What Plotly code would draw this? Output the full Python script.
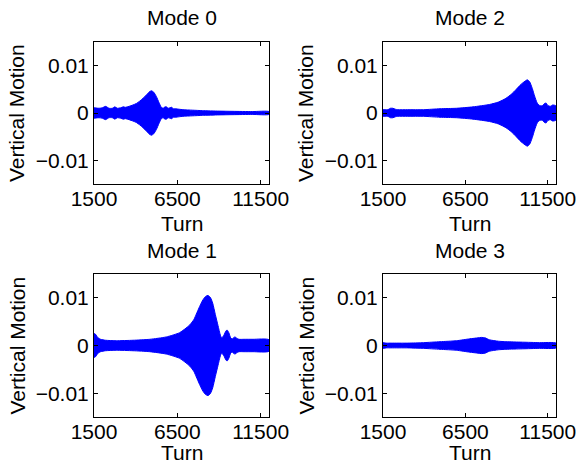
import plotly.graph_objects as go

# ---- data (envelope half-amplitudes) ----
mode0_turns = [1500, 1800, 2000, 2200, 2400, 2600, 2750, 2900, 3100, 3250, 3400, 3600, 3840, 4040, 4240, 4440, 4640, 4800, 4940, 5080, 5240, 5400, 5540, 5650, 5760, 5840, 5950, 6060, 6160, 6260, 6380, 6600, 6840, 7400, 8000, 9000, 9840, 11000, 12000]
mode0_amp   = [0.0011, 0.0010, 0.0011, 0.0014, 0.0010, 0.0010, 0.0013, 0.0010, 0.0011, 0.0013, 0.0012, 0.0014, 0.0017, 0.0020, 0.0025, 0.0031, 0.0038, 0.0044, 0.0047, 0.0044, 0.0035, 0.0022, 0.0012, 0.0010, 0.0013, 0.0013, 0.0010, 0.0011, 0.0012, 0.0009, 0.0009, 0.0008, 0.0007, 0.0006, 0.0005, 0.0004, 0.00035, 0.0003, 0.0003]

mode2_turns = [1500, 1800, 1950, 2100, 2250, 2400, 3000, 3960, 4960, 5960, 6960, 7960, 8500, 8960, 9300, 9560, 9800, 9960, 10150, 10260, 10400, 10560, 10700, 10860, 11000, 11150, 11300, 11400, 11500, 11650, 11800, 12000]
mode2_amp   = [0.0007, 0.0007, 0.0010, 0.0010, 0.0008, 0.0007, 0.0007, 0.0007, 0.0009, 0.0010, 0.0013, 0.0018, 0.0023, 0.0031, 0.0040, 0.0049, 0.0058, 0.0063, 0.0068, 0.0070, 0.0066, 0.0052, 0.0036, 0.0021, 0.0016, 0.0015, 0.0020, 0.0021, 0.0016, 0.0014, 0.0017, 0.0015]

mode1_turns = [1500, 1580, 1660, 1740, 1900, 2200, 2840, 3840, 4840, 5840, 6640, 7240, 7500, 7640, 7840, 8040, 8200, 8340, 8480, 8620, 8780, 8940, 9080, 9160, 9300, 9420, 9500, 9600, 9700, 9800, 9900, 9980, 10060, 10200, 10500, 11040, 12000]
mode1_amp   = [0.0025, 0.0024, 0.0020, 0.0016, 0.0013, 0.0011, 0.0010, 0.0011, 0.0013, 0.0018, 0.0027, 0.0043, 0.0055, 0.0066, 0.0082, 0.0096, 0.0103, 0.0105, 0.0101, 0.0089, 0.0065, 0.0042, 0.0022, 0.0016, 0.0022, 0.0031, 0.0032, 0.0026, 0.0016, 0.0014, 0.0017, 0.0018, 0.0015, 0.0013, 0.0013, 0.0013, 0.0012]

mode3_turns = [1500, 1700, 2000, 3000, 3960, 4960, 5960, 6760, 7260, 7460, 7700, 7960, 8500, 8960, 9960, 11000, 12000]
mode3_amp   = [0.0006, 0.0005, 0.0005, 0.0005, 0.0006, 0.0008, 0.0010, 0.0014, 0.0016, 0.0017, 0.0016, 0.0012, 0.0009, 0.0008, 0.0007, 0.0006, 0.0005]

titles = ["Mode 0", "Mode 2", "Mode 1", "Mode 3"]
x_tickvals = [1500, 6500, 11500]
x_ticktext = ["1500", "6500", "11500"]
y_tickvals = [-0.01, 0, 0.01]
y_ticktext = ["\u22120.01", "0", "0.01"]
x_range = [1500, 12000]
y_range = [-0.015, 0.015]

# (turns, amplitude, box x px, box y px, title y px, xlabel y px)
panels = [
    (mode0_turns, mode0_amp, [94, 269], [42, 184], 17, 223),
    (mode2_turns, mode2_amp, [383, 556], [42, 184], 17, 223),
    (mode1_turns, mode1_amp, [94, 269], [274, 417], 250, 452),
    (mode3_turns, mode3_amp, [383, 556], [274, 417], 250, 452),
]

W, H = 581, 464
FONT = "Liberation Sans, Arial, Helvetica, sans-serif"
FS = 21

fig = go.Figure()
annotations = []
layout = dict(
    template="none",
    width=W, height=H, margin=dict(l=0, r=0, t=0, b=0, pad=0, autoexpand=False),
    paper_bgcolor="white", plot_bgcolor="white", showlegend=False,
    font=dict(family=FONT, size=FS, color="black"),
)

for i, (turns, amp, xp, yp, ty, ly) in enumerate(panels):
    n = "" if i == 0 else str(i + 1)
    xs = list(turns) + list(reversed(turns))
    ys = list(amp) + [-a for a in reversed(amp)]
    fig.add_trace(go.Scatter(
        x=xs, y=ys, mode="lines", fill="toself",
        fillcolor="#0000FF", line=dict(color="#0000FF", width=1, shape="spline", smoothing=0.6),
        xaxis="x" + n, yaxis="y" + n, hoverinfo="skip",
    ))
    dx = [xp[0] / W, xp[1] / W]
    dy = [1 - yp[1] / H, 1 - yp[0] / H]
    common = dict(
        ticks="inside", ticklen=4, tickcolor="black", tickwidth=1, mirror="ticks",
        showline=True, linecolor="black", linewidth=1, showgrid=False, zeroline=False,
        automargin=False, tickfont=dict(family=FONT, size=FS, color="black"),
    )
    layout["xaxis" + n] = dict(domain=dx, range=x_range, anchor="y" + n,
                               tickvals=x_tickvals, ticktext=x_ticktext,
                               ticklabelstandoff=-4, **common)
    layout["yaxis" + n] = dict(domain=dy, range=y_range, anchor="x" + n,
                               tickvals=y_tickvals, ticktext=y_ticktext, **common)
    xc = (xp[0] + xp[1]) / 2 / W
    annotations.append(dict(text=titles[i], x=xc, y=1 - ty / H, xref="paper", yref="paper",
                            xanchor="center", yanchor="middle", showarrow=False,
                            font=dict(family=FONT, size=FS, color="black")))
    annotations.append(dict(text="Turn", x=xc, y=1 - ly / H, xref="paper", yref="paper",
                            xanchor="center", yanchor="middle", showarrow=False,
                            font=dict(family=FONT, size=FS, color="black")))
    annotations.append(dict(text="Vertical Motion", x=(xp[0] - 77) / W, y=1 - (yp[0] + yp[1]) / 2 / H,
                            xref="paper", yref="paper", xanchor="center", yanchor="middle",
                            textangle=-90, showarrow=False,
                            font=dict(family=FONT, size=FS, color="black")))

layout["annotations"] = annotations
fig.update_layout(**layout)
fig.write_html("out.html", config={"displayModeBar": False, "staticPlot": True},
               post_script="document.body.style.margin='0';document.body.style.overflow='hidden';")
